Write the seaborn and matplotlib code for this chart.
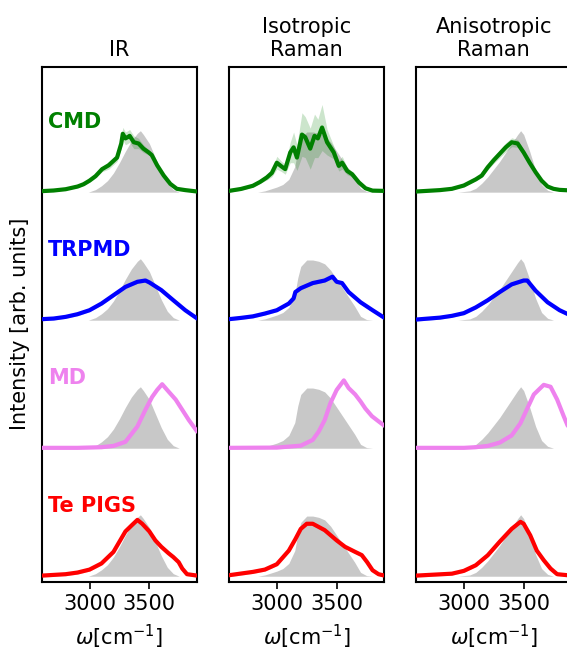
import numpy as np
import pandas as pd
import matplotlib
matplotlib.use("Agg")
import matplotlib.pyplot as plt
import seaborn as sns

sns.set_style("white")
plt.rcParams['font.family'] = ['DejaVu Sans']
plt.rcParams['text.color'] = 'black'
plt.rcParams['axes.labelcolor'] = 'black'
plt.rcParams['xtick.color'] = 'black'
plt.rcParams['ytick.color'] = 'black'

# ---------------- data ----------------
panel_titles = ["IR", "Isotropic\nRaman", "Anisotropic\nRaman"]
methods = ["CMD", "TRPMD", "MD", "Te PIGS"]
method_colors = ["green", "blue", "violet", "red"]
offsets = [3, 2, 1, 0]
xticks = [3000, 3500]

# gray reference spectra (one per panel)
ir_ref_x = [2990, 3050, 3100, 3150, 3200, 3250, 3300, 3350, 3400, 3425, 3450, 3500, 3550, 3600, 3650, 3700, 3750]
ir_ref_y = [0.0, 0.02, 0.05, 0.09, 0.15, 0.23, 0.32, 0.40, 0.46, 0.48, 0.45, 0.38, 0.27, 0.16, 0.07, 0.02, 0.0]
iso_ref_x = [2840, 2900, 2950, 3000, 3050, 3100, 3150, 3175, 3200, 3250, 3300, 3350, 3400, 3450, 3500, 3550, 3600, 3650, 3700, 3750, 3800]
iso_ref_y = [0.0, 0.01, 0.025, 0.04, 0.06, 0.10, 0.20, 0.33, 0.42, 0.47, 0.47, 0.46, 0.44, 0.39, 0.32, 0.25, 0.18, 0.11, 0.03, 0.005, 0.0]
aniso_ref_x = [2950, 3050, 3100, 3150, 3200, 3250, 3300, 3350, 3400, 3450, 3475, 3500, 3550, 3600, 3650, 3700, 3750]
aniso_ref_y = [0.0, 0.01, 0.03, 0.07, 0.12, 0.18, 0.24, 0.31, 0.38, 0.45, 0.48, 0.45, 0.32, 0.17, 0.06, 0.015, 0.0]

# IR
ir_cmd_x = [2600, 2700, 2800, 2900, 2950, 3000, 3050, 3105, 3160, 3230, 3265, 3278, 3300, 3320, 3335, 3370, 3410, 3450, 3495, 3520, 3565, 3620, 3675, 3730, 3800, 3900]
ir_cmd_y = [0.008, 0.013, 0.023, 0.044, 0.062, 0.09, 0.125, 0.18, 0.21, 0.27, 0.38, 0.456, 0.42, 0.43, 0.44, 0.39, 0.38, 0.34, 0.31, 0.29, 0.21, 0.13, 0.065, 0.026, 0.016, 0.005]
ir_cmd_err = [0.005, 0.005, 0.005, 0.008, 0.01, 0.012, 0.015, 0.02, 0.03, 0.03, 0.04, 0.05, 0.05, 0.05, 0.05, 0.05, 0.04, 0.03, 0.02, 0.02, 0.015, 0.01, 0.008, 0.005, 0.005, 0.005]
ir_trpmd_x = [2600, 2700, 2800, 2900, 3000, 3100, 3200, 3300, 3400, 3467, 3500, 3600, 3700, 3800, 3900]
ir_trpmd_y = [0.008, 0.013, 0.026, 0.047, 0.078, 0.13, 0.195, 0.26, 0.30, 0.31, 0.295, 0.235, 0.156, 0.078, 0.013]
ir_md_x = [2600, 2900, 3100, 3200, 3300, 3400, 3467, 3523, 3565, 3607, 3663, 3720, 3775, 3830, 3900]
ir_md_y = [0.003, 0.003, 0.008, 0.018, 0.05, 0.17, 0.30, 0.40, 0.455, 0.50, 0.44, 0.38, 0.30, 0.22, 0.13]
ir_pigs_x = [2600, 2800, 2900, 3000, 3100, 3200, 3250, 3300, 3355, 3400, 3440, 3500, 3550, 3600, 3660, 3700, 3745, 3775, 3815, 3900]
ir_pigs_y = [0.005, 0.016, 0.029, 0.052, 0.10, 0.19, 0.27, 0.35, 0.40, 0.44, 0.41, 0.35, 0.28, 0.23, 0.18, 0.15, 0.11, 0.06, 0.016, 0.005]

# Isotropic Raman
iso_cmd_x = [2600, 2700, 2800, 2860, 2916, 2958, 3000, 3040, 3070, 3112, 3140, 3168, 3210, 3237, 3279, 3315, 3343, 3378, 3420, 3476, 3518, 3546, 3588, 3630, 3686, 3742, 3800, 3900]
iso_cmd_y = [0.01, 0.025, 0.05, 0.08, 0.115, 0.15, 0.23, 0.20, 0.18, 0.31, 0.35, 0.27, 0.45, 0.43, 0.34, 0.44, 0.42, 0.505, 0.39, 0.31, 0.205, 0.23, 0.166, 0.14, 0.076, 0.03, 0.012, 0.01]
iso_cmd_err = [0.01, 0.01, 0.01, 0.01, 0.02, 0.03, 0.05, 0.04, 0.04, 0.08, 0.12, 0.10, 0.17, 0.16, 0.16, 0.17, 0.15, 0.18, 0.10, 0.05, 0.04, 0.05, 0.03, 0.02, 0.015, 0.01, 0.01, 0.01]
iso_trpmd_x = [2600, 2700, 2800, 2900, 3000, 3100, 3140, 3155, 3200, 3300, 3400, 3465, 3500, 3545, 3600, 3700, 3800, 3900]
iso_trpmd_y = [0.008, 0.018, 0.03, 0.052, 0.078, 0.13, 0.17, 0.22, 0.25, 0.29, 0.31, 0.34, 0.30, 0.29, 0.22, 0.14, 0.078, 0.018]
iso_md_x = [2600, 3000, 3200, 3300, 3350, 3400, 3447, 3500, 3560, 3600, 3655, 3700, 3740, 3795, 3850, 3900]
iso_md_y = [0.003, 0.005, 0.02, 0.065, 0.13, 0.22, 0.35, 0.455, 0.53, 0.47, 0.42, 0.365, 0.31, 0.25, 0.21, 0.175]
iso_pigs_x = [2600, 2800, 2900, 3000, 3100, 3155, 3200, 3250, 3300, 3350, 3400, 3450, 3500, 3570, 3655, 3710, 3755, 3800, 3850, 3900]
iso_pigs_y = [0.008, 0.034, 0.052, 0.094, 0.20, 0.29, 0.37, 0.41, 0.41, 0.385, 0.36, 0.32, 0.28, 0.23, 0.19, 0.165, 0.11, 0.047, 0.016, 0.005]

# Anisotropic Raman
aniso_cmd_x = [2600, 2800, 2900, 3000, 3100, 3150, 3200, 3250, 3300, 3350, 3400, 3450, 3500, 3550, 3600, 3650, 3700, 3750, 3800, 3900]
aniso_cmd_y = [0.005, 0.016, 0.026, 0.052, 0.10, 0.13, 0.195, 0.25, 0.30, 0.35, 0.39, 0.38, 0.31, 0.23, 0.156, 0.09, 0.044, 0.026, 0.018, 0.013]
aniso_cmd_err = [0.005, 0.005, 0.005, 0.008, 0.01, 0.015, 0.02, 0.025, 0.03, 0.035, 0.035, 0.03, 0.02, 0.015, 0.01, 0.008, 0.005, 0.005, 0.005, 0.005]
aniso_trpmd_x = [2600, 2800, 2900, 3000, 3100, 3200, 3300, 3400, 3500, 3530, 3600, 3700, 3800, 3900]
aniso_trpmd_y = [0.005, 0.02, 0.034, 0.055, 0.10, 0.156, 0.22, 0.28, 0.31, 0.31, 0.23, 0.14, 0.078, 0.034]
aniso_md_x = [2600, 3000, 3100, 3200, 3300, 3400, 3473, 3530, 3585, 3640, 3668, 3725, 3780, 3835, 3866, 3900]
aniso_md_y = [0.003, 0.003, 0.008, 0.018, 0.044, 0.10, 0.195, 0.31, 0.42, 0.47, 0.495, 0.48, 0.38, 0.25, 0.18, 0.13]
aniso_pigs_x = [2600, 2900, 3000, 3100, 3200, 3300, 3400, 3473, 3500, 3555, 3610, 3668, 3725, 3780, 3900]
aniso_pigs_y = [0.005, 0.02, 0.042, 0.086, 0.164, 0.27, 0.37, 0.425, 0.41, 0.32, 0.20, 0.125, 0.06, 0.016, 0.005]

small_err = 0.012  # thin uncertainty halo for non-CMD curves

refs = [(ir_ref_x, ir_ref_y), (iso_ref_x, iso_ref_y), (aniso_ref_x, aniso_ref_y)]
series = [
    [(ir_cmd_x, ir_cmd_y, ir_cmd_err), (ir_trpmd_x, ir_trpmd_y, None),
     (ir_md_x, ir_md_y, None), (ir_pigs_x, ir_pigs_y, None)],
    [(iso_cmd_x, iso_cmd_y, iso_cmd_err), (iso_trpmd_x, iso_trpmd_y, None),
     (iso_md_x, iso_md_y, None), (iso_pigs_x, iso_pigs_y, None)],
    [(aniso_cmd_x, aniso_cmd_y, aniso_cmd_err), (aniso_trpmd_x, aniso_trpmd_y, None),
     (aniso_md_x, aniso_md_y, None), (aniso_pigs_x, aniso_pigs_y, None)],
]

# ---------------- figure ----------------
W, H = 567, 657
fig = plt.figure(figsize=(W / 100, H / 100), dpi=100)
lefts = [41.7, 229.0, 416.0]
ax_w = 155.5
ax_top, ax_bot = 66.7, 582.0
FS = 15

for p in range(3):
    ax = fig.add_axes([lefts[p] / W, 1 - ax_bot / H, ax_w / W, (ax_bot - ax_top) / H])
    rx, ry = refs[p]
    for m in range(4):
        off = offsets[m]
        col = method_colors[m]
        ax.fill_between(np.array(rx), off, off + np.array(ry), color="#c8c8c8", lw=0, zorder=1)
        sx, sy, se = series[p][m]
        sx = np.array(sx); sy = np.array(sy) + off
        err = np.array(se) if se is not None else small_err
        ax.fill_between(sx, sy - err, sy + err, color=col, alpha=0.2, lw=0, zorder=2)
        df = pd.DataFrame({"w": sx, "I": sy})
        sns.lineplot(data=df, x="w", y="I", ax=ax, color=col, lw=3.0, zorder=3)
        if p == 0:
            ax.text(2655, off + 0.55, methods[m], color=col, fontsize=FS,
                    fontweight="bold", ha="left", va="center", zorder=4)
    ax.set_xlim(2600, 3900)
    ax.set_ylim(-0.045, 3.98)
    ax.set_yticks([])
    ax.set_xticks(xticks)
    ax.set_xticklabels([str(t) for t in xticks], fontsize=FS)
    ax.tick_params(axis="x", direction="out", length=5, width=1.2, bottom=True, pad=4,
                   colors="black")
    ax.set_xlabel(r"$\omega$[cm$^{-1}$]", fontsize=FS, labelpad=6, color="black")
    ax.set_ylabel("")
    ax.set_title(panel_titles[p], fontsize=FS, pad=8, linespacing=1.15, color="black")
    for s in ax.spines.values():
        s.set_color("black")
        s.set_linewidth(1.5)

fig.text(20 / W, 1 - 324 / H, "Intensity [arb. units]", rotation=90,
         ha="center", va="center", fontsize=FS, color="black")

fig.savefig("out.png", dpi=100)
